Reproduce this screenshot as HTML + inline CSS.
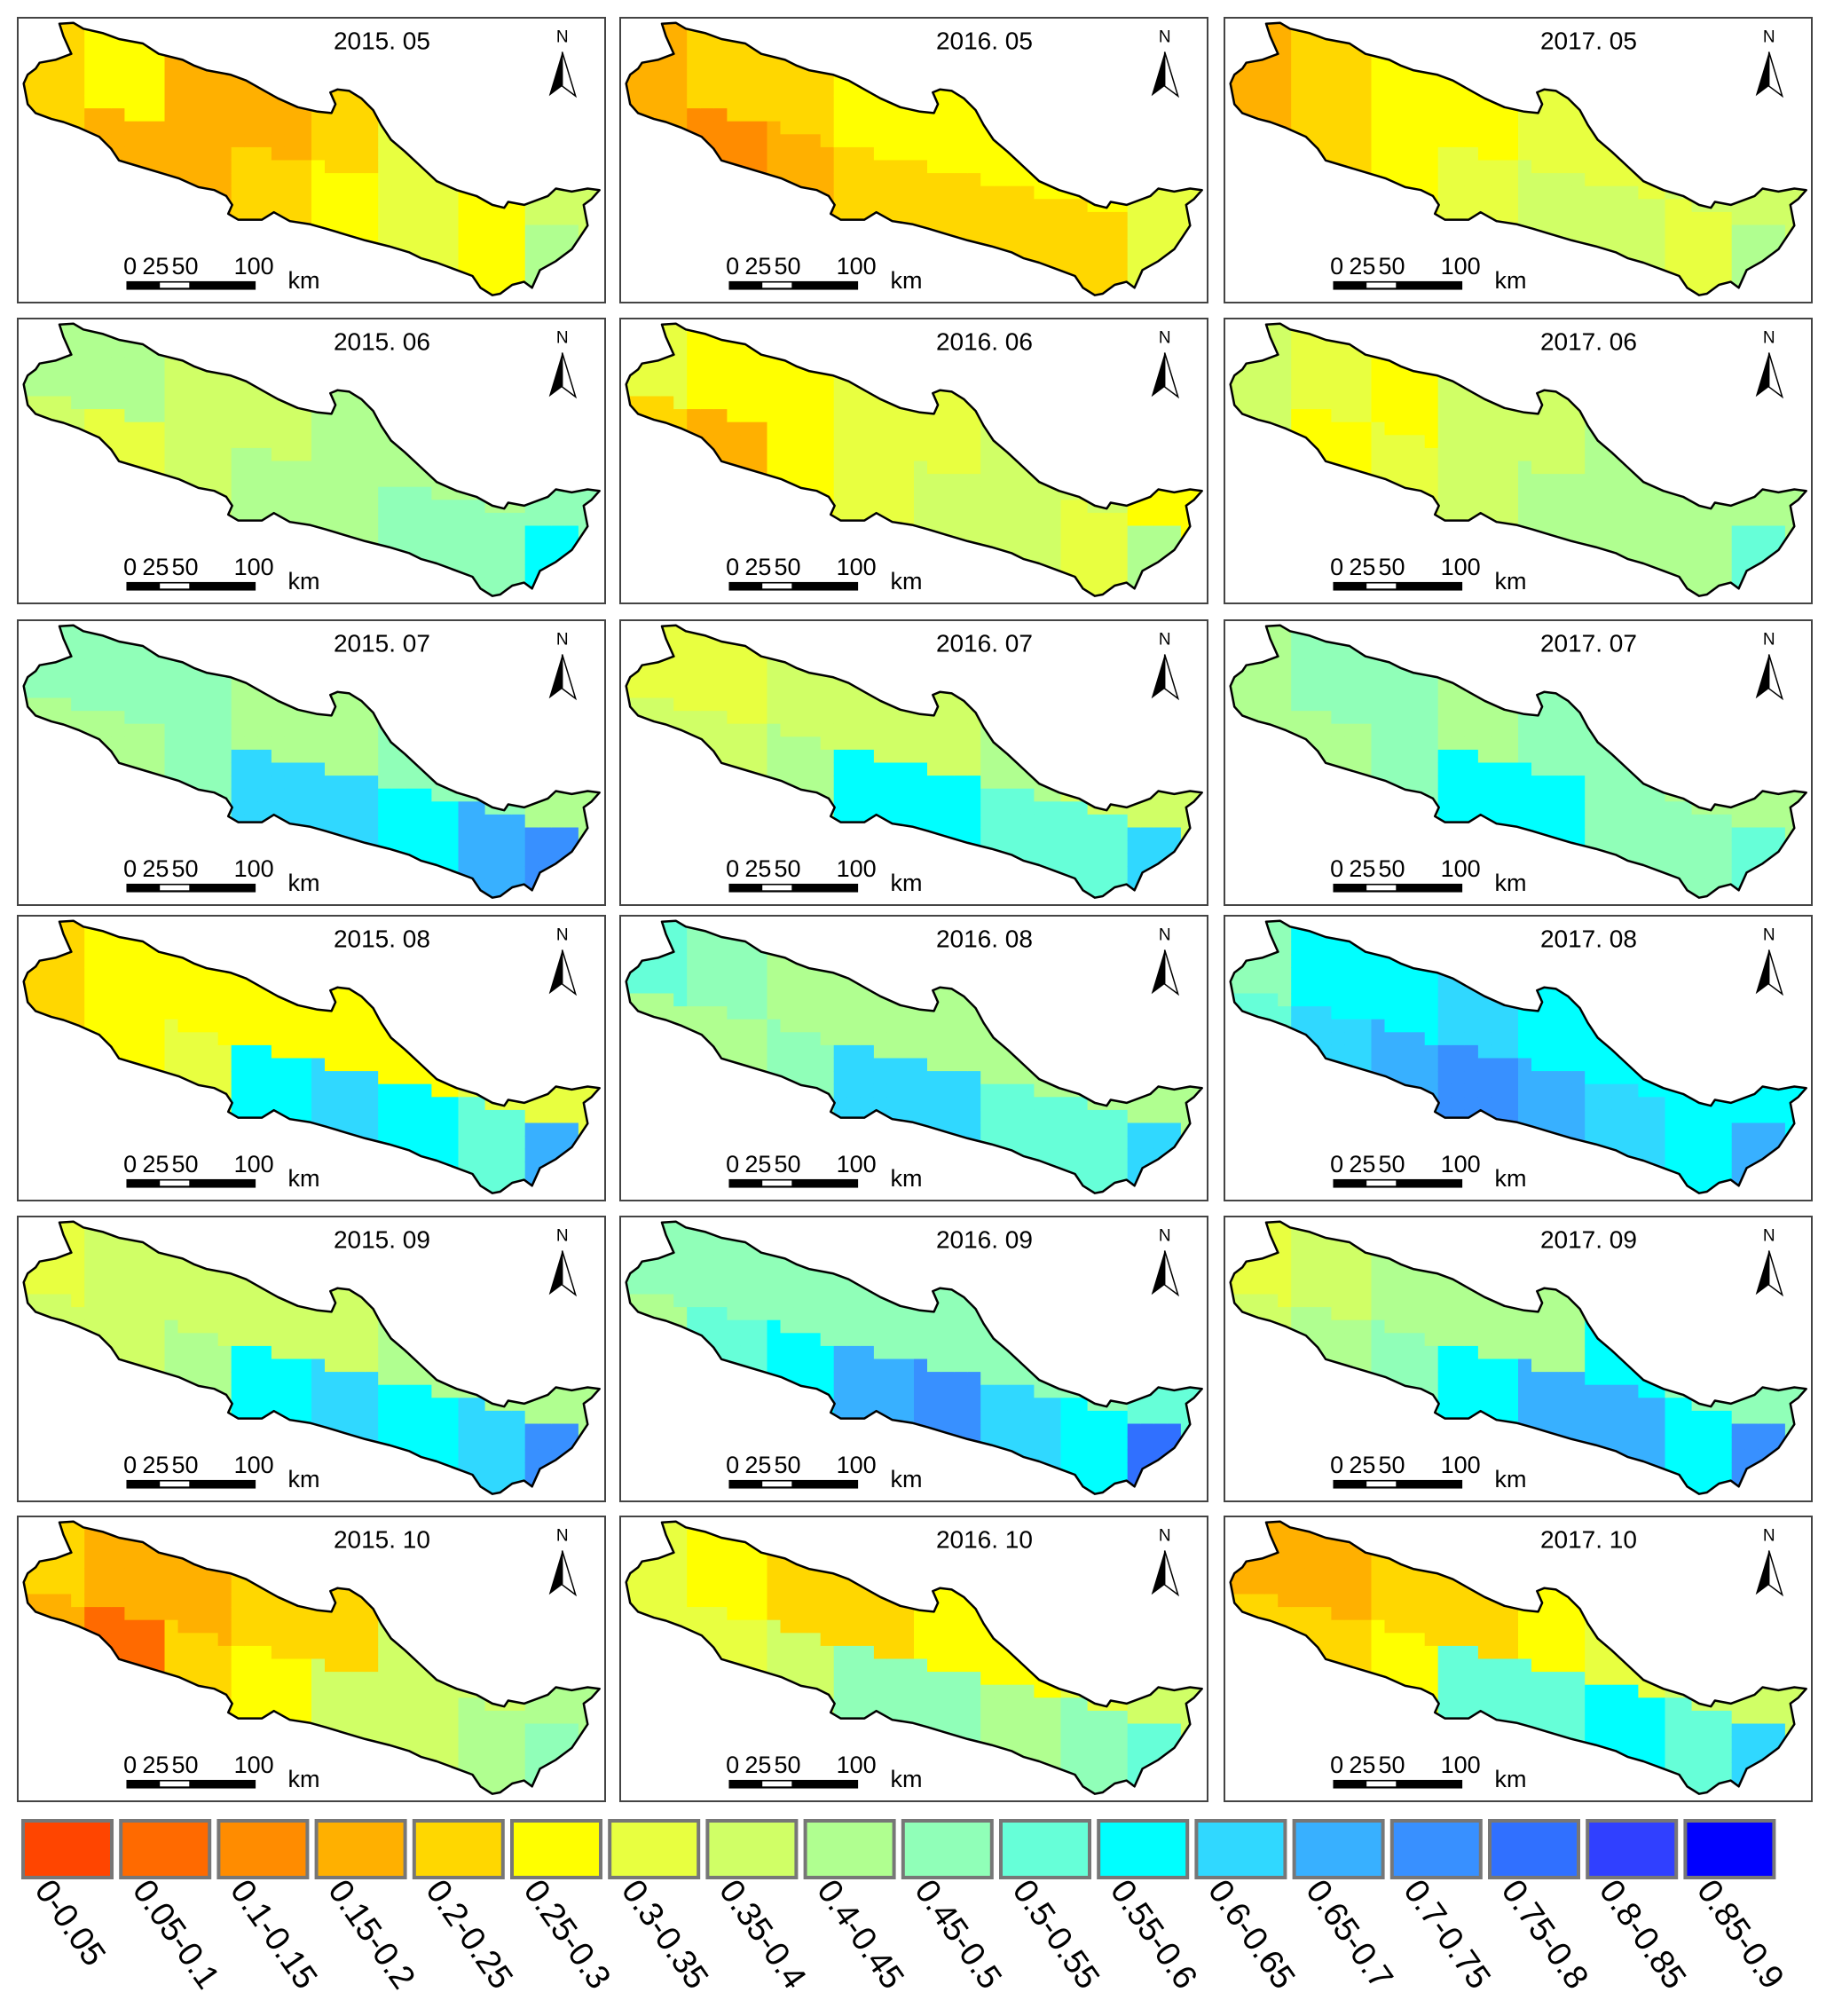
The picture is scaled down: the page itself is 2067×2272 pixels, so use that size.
<!DOCTYPE html>
<html><head><meta charset="utf-8">
<style>
body{margin:0;background:#fff;width:2067px;height:2272px;overflow:hidden;font-family:"Liberation Sans",sans-serif}
svg{position:absolute;left:0;top:0}
</style></head>
<body>
<svg id="fig" width="2067" height="2272"></svg>
<script>
const titles=["2015. 05","2016. 05","2017. 05","2015. 06","2016. 06","2017. 06","2015. 07","2016. 07","2017. 07","2015. 08","2016. 08","2017. 08","2015. 09","2016. 09","2017. 09","2015. 10","2016. 10","2017. 10"];
const northVals=[[4,5,3,3,4,6,5,7],[3,4,4,5,5,5,5,6],[3,4,5,5,6,6,7,7],[8,8,7,7,8,8,8,9],[6,5,5,6,6,7,7,5],[7,6,5,7,7,8,8,8],[9,9,9,8,8,9,9,8],[6,6,7,7,7,8,7,7],[8,9,9,8,9,9,8,8],[4,5,5,5,5,5,6,6],[10,9,8,8,8,8,8,8],[9,11,11,12,11,11,11,11],[6,7,7,7,7,8,8,8],[9,9,9,9,9,9,9,10],[6,7,8,8,8,11,9,9],[4,3,3,4,4,7,7,8],[6,5,4,4,5,5,6,7],[3,3,4,4,5,6,7,7]];
const southVals=[[4,3,3,4,5,6,5,8],[3,2,3,4,4,4,4,6],[3,4,5,6,7,7,6,8],[7,6,7,8,8,9,9,11],[4,3,5,6,7,7,6,8],[7,5,6,7,8,8,8,10],[8,8,9,12,12,11,13,14],[7,7,8,11,11,10,10,12],[8,8,9,11,11,9,9,10],[4,5,6,11,12,11,10,13],[8,8,9,12,12,10,10,12],[10,12,13,14,13,12,11,13],[7,7,8,11,12,11,12,14],[8,10,11,13,14,12,11,15],[7,8,9,11,13,13,11,14],[3,1,4,5,7,7,8,9],[6,6,7,9,9,8,9,10],[4,4,5,10,10,11,10,12]];
const classLabels=["0-0.05","0.05-0.1","0.1-0.15","0.15-0.2","0.2-0.25","0.25-0.3","0.3-0.35","0.35-0.4","0.4-0.45","0.45-0.5","0.5-0.55","0.55-0.6","0.6-0.65","0.65-0.7","0.7-0.75","0.75-0.8","0.8-0.85","0.85-0.9"];
const colors=["#ff4500","#ff6a00","#ff8c00","#ffb000","#ffd700","#ffff00","#e8ff40","#d0ff66","#b0ff90","#90ffb8","#66ffd8","#00ffff","#30d8ff","#38b0ff","#3890ff","#3070ff","#3040ff","#0000ff"];
const shapePts=[[150,78],[185,75],[210,95],[260,110],[300,130],[360,145],[400,180],[460,200],[490,220],[520,235],[580,250],[620,270],[660,300],[700,330],[750,360],[800,375],[835,380],[845,350],[832,310],[850,300],[880,305],[910,330],[940,370],[960,420],[985,470],[1020,510],[1060,560],[1100,610],[1150,640],[1200,660],[1240,690],[1270,700],[1280,680],[1320,690],[1380,660],[1400,635],[1440,645],[1480,635],[1510,640],[1490,670],[1470,690],[1480,760],[1460,800],[1440,840],[1400,880],[1360,910],[1350,940],[1340,970],[1320,950],[1290,960],[1260,990],[1240,995],[1210,970],[1190,930],[1150,910],[1100,885],[1060,870],[1030,850],[980,830],[920,810],[870,790],[820,770],[780,755],[730,745],[690,715],[660,740],[600,740],[575,720],[585,690],[570,660],[540,640],[500,630],[450,600],[400,580],[350,560],[300,540],[280,500],[250,460],[200,430],[160,410],[130,400],[90,380],[70,350],[60,280],[70,250],[90,230],[100,210],[140,200],[180,180],[160,120]];
const colX=[20,699,1380], rowY=[20,359,699,1032,1371,1709], PW=662, PH=321;
const NS="http://www.w3.org/2000/svg";
const svg=document.getElementById('fig');
function mk(t,a,p){const e=document.createElementNS(NS,t);for(const k in a)e.setAttribute(k,a[k]);(p||svg).appendChild(e);return e;}
const defs=mk('defs',{});
for(let i=0;i<18;i++){
  const px=colX[i%3], py=rowY[Math.floor(i/3)];
  const g=mk('g',{transform:`translate(${px},${py})`});
  
  
  const frame=mk('rect',{x:0,y:0,width:PW,height:PH,fill:'#fff',stroke:'#444','stroke-width':2},g);
  
  
  const pts=shapePts.map(p=>`${((p[0]-45)/1479*PW).toFixed(1)},${((p[1]-58)/962*PH).toFixed(1)}`).join(' ');
  const cp=mk('clipPath',{id:'clip'+i},defs);
  mk('polygon',{points:pts},cp);
  const cells=mk('g',{'clip-path':`url(#clip${i})`},g);
  
  
  const NC=44, NR=22;
  for(let c=0;c<NC;c++)for(let r=0;r<NR;r++){
    const nx=(c+0.5)/NC, ny=(r+0.5)/NR;
    const col=Math.min(7,Math.floor(nx*8));
    const center=0.25+0.52*nx;
    const v=ny<center?northVals[i][col]:southVals[i][col];
    const cell=mk('rect',{x:(c*PW/NC).toFixed(1),y:(r*PH/NR).toFixed(1),width:(PW/NC+0.6).toFixed(1),height:(PH/NR+0.6).toFixed(1),fill:colors[v]},cells);
    
    
  }
  const ol=mk('polygon',{points:pts,fill:'none',stroke:'#000','stroke-width':2.5,'stroke-linejoin':'round'},g);
  
  
  const t=mk('text',{x:PW*0.62,y:PH*0.11,'font-size':28,'text-anchor':'middle',fill:'#000'},g);
  t.textContent=titles[i];
  
  
  const na=mk('g',{transform:`translate(${PW*0.927},0)`},g);
  
  
  const nt=mk('text',{x:0,y:PH*0.085,'font-size':19,'text-anchor':'middle'},na);
  nt.textContent='N';
  mk('polygon',{points:`0,${PH*0.12} -15,${PH*0.275} 0,${PH*0.24}`,fill:'#000'},na);
  mk('polygon',{points:`0,${PH*0.12} 15,${PH*0.275} 0,${PH*0.24}`,fill:'#fff',stroke:'#000','stroke-width':1.5},na);
  const sb=mk('g',{},g);
  
  
  mk('rect',{x:PW*0.185,y:PH*0.925,width:PW*0.22,height:PH*0.03,fill:'#000'},sb);
  mk('rect',{x:PW*0.242,y:PH*0.93,width:PW*0.05,height:PH*0.018,fill:'#fff'},sb);
  [['0',0.18],['25',0.212],['50',0.262],['100',0.368]].forEach(([s,x])=>{const e=mk('text',{x:PW*x,y:PH*0.9,'font-size':27},sb);e.textContent=s;});
  const km=mk('text',{x:PW*0.46,y:PH*0.95,'font-size':27},sb);km.textContent='km';
}
const lg=mk('g',{});


for(let k=0;k<18;k++){
  const x=26+k*110.2;
  const b=mk('rect',{x:x,y:2052,width:100,height:64,fill:colors[k],stroke:'#777','stroke-width':4},lg);
  
  
  const t=mk('text',{x:0,y:0,'font-size':38,transform:`translate(${x+12},2130) rotate(55)`},lg);
  t.textContent=classLabels[k];
  
  
}
</script>
</body></html>
